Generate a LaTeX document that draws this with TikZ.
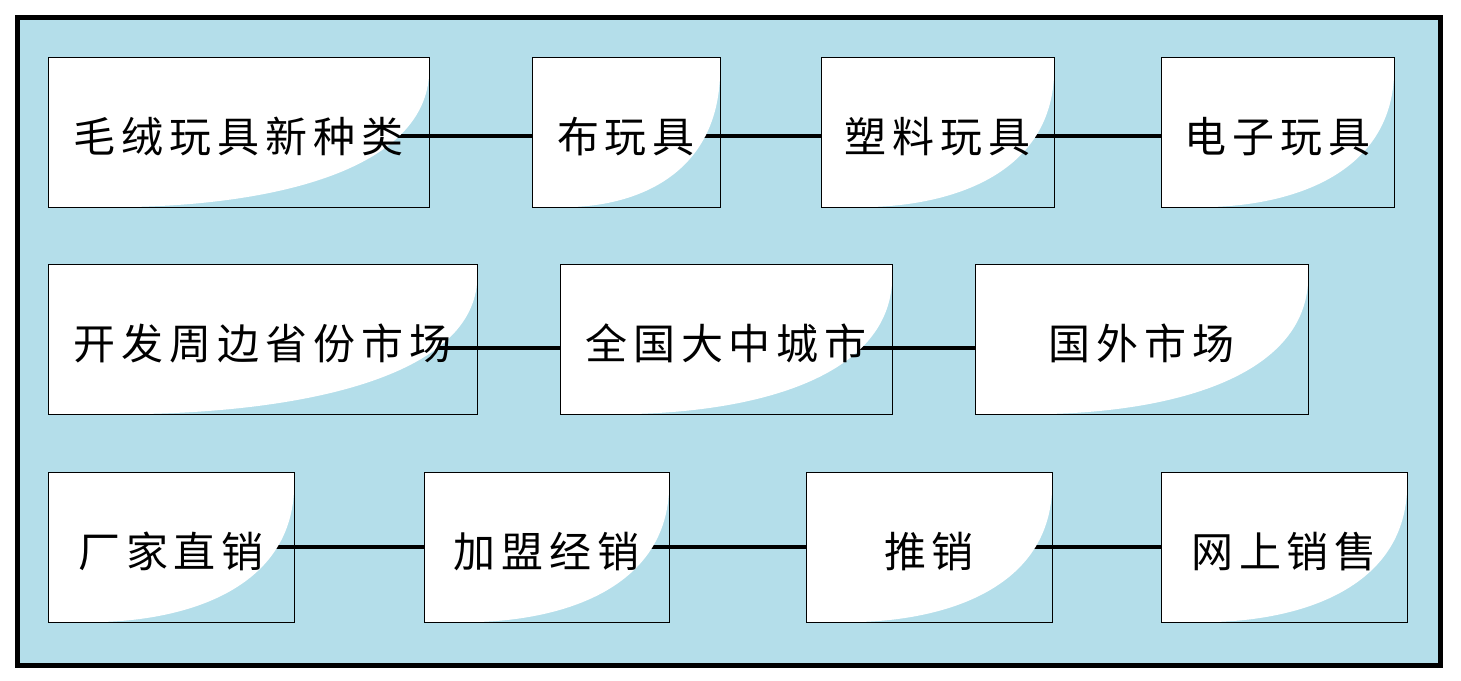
\documentclass[tikz,border=0pt]{standalone}
\usepackage{fontspec}
\newfontfamily\cjk[LetterSpace=14]{Noto Sans CJK SC}
\usetikzlibrary{positioning,calc}
\definecolor{panelblue}{HTML}{B4DEEA}
\pgfdeclarelayer{panel}
\pgfdeclarelayer{links}
\pgfsetlayers{panel,links,main}

\begin{document}
\begin{tikzpicture}[x=1pt,y=-1pt,
        box/.style={draw=black,line width=1pt,minimum width=#1,minimum height=150pt,
                    inner sep=0pt,outer sep=0pt,font=\cjk\fontsize{42}{42}\selectfont,
                    text height=40pt,text depth=0pt,
                    path picture={
                      \fill[white] let \p1=(path picture bounding box.south west),
                        \p2=(path picture bounding box.north east),
                        \n1={\x2-\x1},\n2={\y2-\y1} in
                        (\x1,\y2) -- (\x2,\y2) -- (\x2,{\y2-0.13*\n2})
                        .. controls ({\x2-0.02*\n1},{\y2-0.75*\n2}) and ({\x1+0.6*\n1},{\y1+0.02*\n2})
                        .. ({\x1+0.22*\n1},\y1) -- (\x1,\y1) -- cycle;}},
        link/.style={line width=4.5pt,black}
      ]
        \useasboundingbox (0,0) rectangle (1461,680);
        % products
        \node[box=381pt] (b1) at (238.5,132) {毛绒玩具新种类};
        \node[box=188pt,right=103pt of b1] (b2) {布玩具};
        \node[box=233pt,right=101pt of b2] (b3) {塑料玩具};
        \node[box=233pt,right=107pt of b3] (b4) {电子玩具};
        % markets
        \node[box=429pt] (c1) at (262.5,339) {开发周边省份市场};
        \node[box=332pt,right=83pt of c1] (c2) {全国大中城市};
        \node[box=333pt,right=83pt of c2] (c3) {国外市场};
        % channels
        \node[box=246pt] (d1) at (171,547) {厂家直销};
        \node[box=245pt,right=130pt of d1] (d2) {加盟经销};
        \node[box=246pt,right=137pt of d2] (d3) {推销};
        \node[box=246pt,right=109pt of d3] (d4) {网上销售};
        \begin{pgfonlayer}{links}
          \foreach \a/\b in {b1/b2,b2/b3,b3/b4}
            \draw[link] ([yshift=-4pt]\a.center) -- ([yshift=-4pt]\b.center);
          \foreach \a/\b in {c1/c2,c2/c3}
            \draw[link] ([yshift=-9pt]\a.center) -- ([yshift=-9pt]\b.center);
          \foreach \a/\b in {d1/d2,d2/d3,d3/d4}
            \draw[link] (\a.center) -- (\b.center);
        \end{pgfonlayer}
        \begin{pgfonlayer}{panel}
          \draw[line width=5pt,fill=panelblue] (17.5,17.5) rectangle (1440.5,665);
        \end{pgfonlayer}
      \end{tikzpicture}
\end{document}
